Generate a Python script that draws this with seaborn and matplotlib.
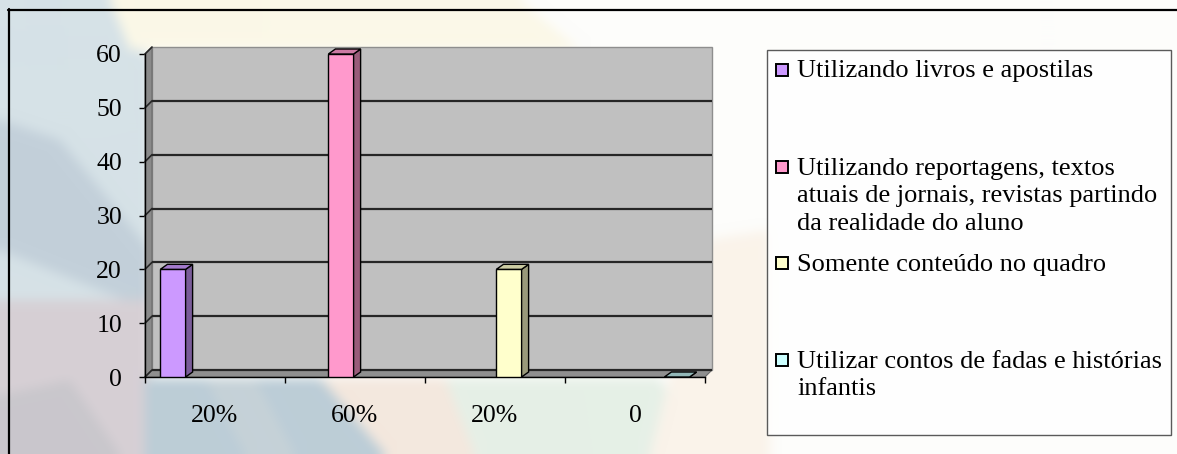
import numpy as np
import pandas as pd
import matplotlib
matplotlib.use("Agg")
import matplotlib.pyplot as plt
from matplotlib.patches import Polygon, Rectangle
from matplotlib.lines import Line2D
from matplotlib.path import Path
import matplotlib.colors as mcolors
import seaborn as sns

# ---- data -------------------------------------------------------------
categories = ["20%", "60%", "20%", "0"]
series = [
    "Utilizando livros e apostilas",
    "Utilizando reportagens, textos atuais de jornais, revistas partindo da realidade do aluno",
    "Somente conteúdo no quadro",
    "Utilizar contos de fadas e histórias infantis",
]
legend_labels = [
    "Utilizando livros e apostilas",
    "Utilizando reportagens, textos\natuais de jornais, revistas partindo\nda realidade do aluno",
    "Somente conteúdo no quadro",
    "Utilizar contos de fadas e histórias\ninfantis",
]
values = [20, 60, 20, 0]
colors = ["#cc99ff", "#ff99cc", "#ffffcc", "#ccffff"]
yticks = [0, 10, 20, 30, 40, 50, 60]

df = pd.DataFrame({"pos": list(range(len(categories))),
                   "serie": series,
                   "valor": values})

W, H = 1177, 454
FONT = "Liberation Serif"

sns.set_theme(style="white")
plt.rcParams["font.family"] = [FONT, "DejaVu Serif"]

fig = plt.figure(figsize=(W / 100, H / 100), dpi=100)


def fx(px):
    return px / W


def fy(py):
    return 1 - py / H


# ---- soft pastel backdrop ---------------------------------------------
def hexrgb(c):
    return np.array(mcolors.to_rgb(c))


img = np.ones((H, W, 3)) * hexrgb("#fdfdfb")
yy, xx = np.mgrid[0:H, 0:W]
pts = np.column_stack([xx.ravel() + 0.5, yy.ravel() + 0.5])
shapes = [
    ([(0, 0), (115, 0), (150, 60), (150, 454), (0, 454)], "#d6e2e7"),
    ([(110, 0), (520, 0), (580, 50), (130, 50)], "#fbf8e8"),
    ([(0, 120), (60, 140), (150, 250), (150, 310), (0, 250)], "#c3d0da"),
    ([(0, 300), (150, 300), (150, 454), (0, 454)], "#d7d0d5"),
    ([(0, 395), (70, 380), (120, 454), (0, 454)], "#c9c7cc"),
    ([(145, 378), (320, 378), (385, 454), (145, 454)], "#bccdd7"),
    ([(205, 378), (255, 378), (295, 454), (245, 454)], "#c6d2d8"),
    ([(320, 378), (445, 378), (475, 454), (385, 454)], "#f4e8de"),
    ([(445, 378), (660, 378), (700, 454), (475, 454)], "#e6f0e7"),
    ([(705, 240), (770, 230), (770, 454), (650, 454)], "#faf3ea"),
]
for verts, col in shapes:
    mask = Path(verts).contains_points(pts).reshape(H, W)
    img[mask] = hexrgb(col)


def box_blur(a, r):
    out = a.copy()
    for axis in (0, 1):
        pad = [(0, 0)] * 3
        pad[axis] = (r + 1, r)
        p = np.pad(out, pad, mode="edge")
        c = np.cumsum(p, axis=axis)
        n = out.shape[axis]
        hi = np.take(c, np.arange(2 * r + 1, 2 * r + 1 + n), axis=axis)
        lo = np.take(c, np.arange(0, n), axis=axis)
        out = (hi - lo) / (2 * r + 1)
    return out


img = box_blur(box_blur(img, 6), 6)

bg = fig.add_axes([0, 0, 1, 1], zorder=-5)
bg.imshow(img, extent=(0, W, H, 0), aspect="auto", interpolation="bilinear")
bg.set_xlim(0, W)
bg.set_ylim(H, 0)
bg.axis("off")

# outer frame (top and left edges fall inside the canvas)
fig.add_artist(Line2D([fx(8), fx(W + 5)], [fy(9.5), fy(9.5)], color="black",
                      lw=1.6, transform=fig.transFigure))
fig.add_artist(Line2D([fx(8.5), fx(8.5)], [fy(9), fy(H + 5)], color="black",
                      lw=1.6, transform=fig.transFigure))

# ---- main axes --------------------------------------------------------
x0px, x1px, y0px, y1px = 145, 705, 377, 54
ax = fig.add_axes([fx(x0px), fy(y0px), fx(x1px - x0px), (y0px - y1px) / H])
ax.patch.set_visible(False)

sns.barplot(data=df, x="pos", y="valor", hue="serie", hue_order=series,
            order=list(range(len(categories))), palette=colors, dodge=True,
            gap=0.1, edgecolor="black", linewidth=1.0, legend=False,
            saturation=1, ax=ax)
bars = [p for p in ax.patches]

n = len(categories)
ax.set_xlim(-0.5, n - 0.5)
ax.set_ylim(0, 60)

sx = n / (x1px - x0px)          # data units per pixel (x)
sy = 60 / (y0px - y1px)         # data units per pixel (y)

# back wall, side wall and floor
wdx, wdy = 7 * sx, 7 * sy
ax.add_patch(Rectangle((-0.5 + wdx, wdy), n, 60, facecolor="#c0c0c0",
                       edgecolor="#8e8e8e", lw=1.0, zorder=0.5, clip_on=False))
ax.add_patch(Polygon([(-0.5, 0), (-0.5, 60), (-0.5 + wdx, 60 + wdy),
                      (-0.5 + wdx, wdy)], closed=True, facecolor="#8a8a8a",
                     edgecolor="#6a6a6a", lw=0.8, zorder=0.6, clip_on=False))
ax.add_patch(Polygon([(-0.5, 0), (n - 0.5, 0), (n - 0.5 + wdx, wdy),
                      (-0.5 + wdx, wdy)], closed=True, facecolor="#8f8f8f",
                     edgecolor="#6a6a6a", lw=0.8, zorder=0.6, clip_on=False))
for t in yticks[:-1]:
    ax.plot([-0.5 + wdx, n - 0.5 + wdx], [t + wdy, t + wdy], color="#262626",
            lw=1.6, zorder=0.8, clip_on=False, solid_capstyle="butt")
    ax.plot([-0.5, -0.5 + wdx], [t, t + wdy], color="#262626", lw=1.2,
            zorder=0.8, clip_on=False)
ax.plot([-0.5, -0.5 + wdx], [60, 60 + wdy], color="#262626", lw=1.2,
        zorder=0.8, clip_on=False)

# 3-D faces on each bar
bdx, bdy = 7 * sx, 5 * sy
for b in bars:
    h = b.get_height()
    if not np.isfinite(h):
        continue
    xl, w = b.get_x(), b.get_width()
    base = np.array(b.get_facecolor()[:3])
    b.set_zorder(3)
    ax.add_patch(Polygon([(xl + w, 0), (xl + w, h), (xl + w + bdx, h + bdy),
                          (xl + w + bdx, bdy)], closed=True,
                         facecolor=base * 0.6, edgecolor="black", lw=1.0,
                         zorder=3, clip_on=False))
    ax.add_patch(Polygon([(xl, h), (xl + w, h), (xl + w + bdx, h + bdy),
                          (xl + bdx, h + bdy)], closed=True,
                         facecolor=base * 0.72 if h == 0 else base * 0.8,
                         edgecolor="black", lw=1.0, zorder=3.1, clip_on=False))

# axes, ticks and labels
for s in ("top", "right"):
    ax.spines[s].set_visible(False)
for s in ("left", "bottom"):
    ax.spines[s].set_color("black")
    ax.spines[s].set_linewidth(1.0)
    ax.spines[s].set_zorder(2)

ax.set_yticks(yticks)
ax.set_yticklabels([str(t) for t in yticks])
ax.tick_params(axis="y", which="major", direction="out", length=4.5, width=1,
               color="black", pad=12, labelsize=18.5, left=True)
ax.set_xticks(np.arange(-0.5, n, 1.0))
ax.set_xticklabels([""] * (n + 1))
ax.set_xticks(np.arange(n), minor=True)
ax.set_xticklabels(categories, minor=True)
ax.tick_params(axis="x", which="major", direction="out", length=4.5, width=1,
               color="black", bottom=True)
ax.tick_params(axis="x", which="minor", length=0, pad=20, labelsize=18.5,
               bottom=True)
ax.set_xlabel("")
ax.set_ylabel("")
ax.grid(False)
for lab in ax.get_xticklabels(minor=True) + ax.get_yticklabels():
    lab.set_fontfamily(FONT)
    lab.set_color("black")

# ---- legend -------------------------------------------------------------
fig.add_artist(Rectangle((fx(767), fy(435)), fx(1171 - 767), (435 - 50) / H,
                         facecolor="white", alpha=0.82, edgecolor="none",
                         transform=fig.transFigure, zorder=1))
fig.add_artist(Rectangle((fx(767), fy(435)), fx(1171 - 767), (435 - 50) / H,
                         facecolor="none", edgecolor="#5a5a5a", lw=1.0,
                         transform=fig.transFigure, zorder=1.1))
entry_y = [70, 167, 263, 360]
msz = 12
for lab, col, ey in zip(legend_labels, colors, entry_y):
    fig.add_artist(Rectangle((fx(776), fy(ey + msz / 2)), fx(msz), msz / H,
                             facecolor=col, edgecolor="black", lw=1.4,
                             transform=fig.transFigure, zorder=2))
    fig.text(fx(797), fy(ey - 9.5), lab, fontsize=19, family=FONT,
             va="top", ha="left", linespacing=1.35, color="black",
             zorder=2)

fig.savefig("out.png", dpi=100)
